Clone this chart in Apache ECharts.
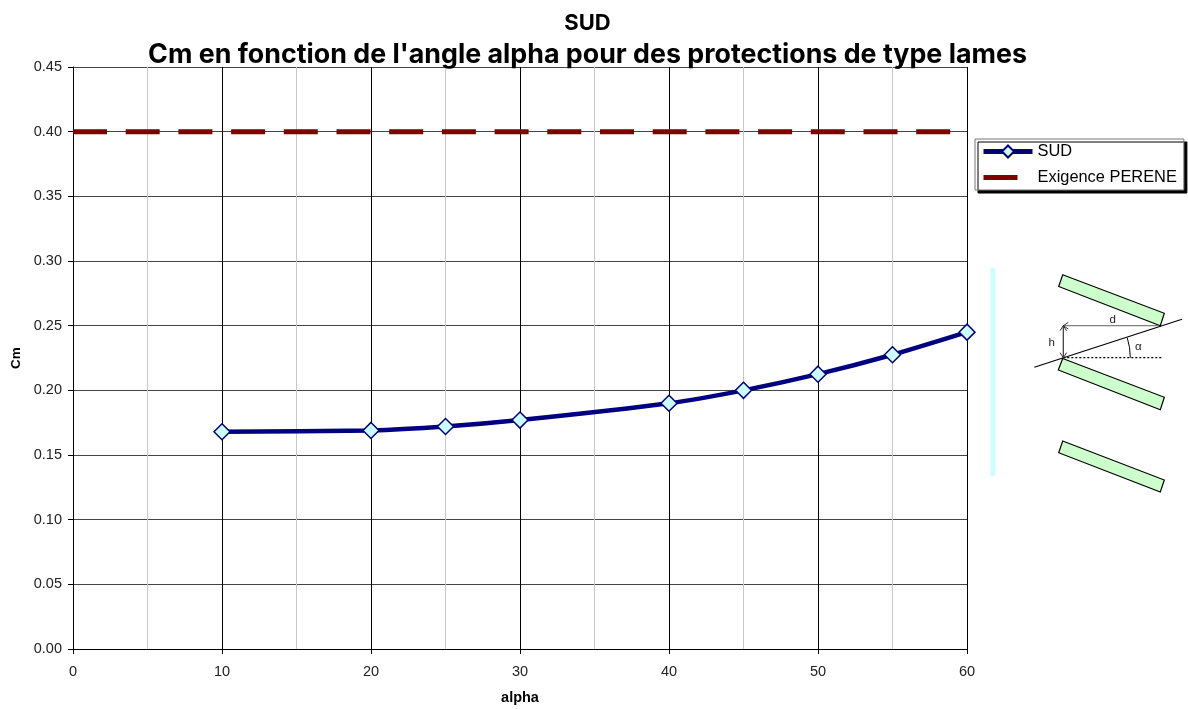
<!DOCTYPE html>
<html><head><meta charset="utf-8">
<style>html,body{margin:0;padding:0;background:#fff}#c{width:1188px;height:709px}</style>
<script src="https://cdn.jsdelivr.net/npm/echarts@6/dist/echarts.min.js"></script>
</head><body><div id="c"></div>
<script>
var titleLines = ["SUD", "Cm en fonction de l'angle alpha pour des protections de type lames"];
var sudAlpha = [10, 20, 25, 30, 40, 45, 50, 55, 60];
var sudCm = [0.168, 0.169, 0.172, 0.177, 0.190, 0.200, 0.2125, 0.2275, 0.245];
var pereneAlpha = [0, 60];
var pereneCm = [0.40, 0.40];
var seriesNames = ["SUD", "Exigence PERENE"];

function zip(a, b) { return a.map(function (v, i) { return [v, b[i]]; }); }
function seg(x1, y1, x2, y2, style) {
  return { type: 'line', shape: { x1: x1, y1: y1, x2: x2, y2: y2 }, style: Object.assign({ stroke: '#000', lineWidth: 1.2 }, style || {}), silent: true };
}
function poly(points, fill) {
  return { type: 'polygon', shape: { points: points }, style: { fill: fill, stroke: '#000', lineWidth: 1.2 }, silent: true };
}
function open(points, color) {
  return { type: 'polyline', shape: { points: points }, style: { fill: 'none', stroke: color, lineWidth: 1 }, silent: true };
}
function label(x, y, t) {
  return { type: 'text', x: x, y: y, style: { text: t, fontFamily: 'Liberation Sans', fontSize: 11.5, fill: '#222', align: 'center', verticalAlign: 'middle' }, silent: true };
}
var FONT = 'Liberation Sans';
var chart = echarts.init(document.getElementById('c'), null, { renderer: 'canvas' });
chart.setOption({
  animation: false,
  backgroundColor: '#fff',
  title: {
    text: '{a|' + titleLines[0] + '}\n{b|' + titleLines[1] + '}', left: 587.5, top: 8, textAlign: 'center', z: 10, padding: 0,
    textStyle: {
      rich: {
        a: { fontFamily: 'Inter', fontWeight: 'bold', fontSize: 22, lineHeight: 31, color: '#000', align: 'center' },
        b: { fontFamily: 'Inter', fontWeight: 'bold', fontSize: 26.8, lineHeight: 32, color: '#000', align: 'center' }
      }
    }
  },
  grid: { left: 73, right: 221, top: 67, bottom: 60, show: false, outerBoundsMode: 'none' },
  legend: {
    left: 975, top: 139, orient: 'vertical', itemWidth: 49, itemHeight: 15, itemGap: 10,
    padding: [4.5, 7, 4.5, 6], selectedMode: false,
    borderColor: '#777', borderWidth: 1, backgroundColor: '#fff',
    shadowColor: '#000', shadowBlur: 0, shadowOffsetX: 3, shadowOffsetY: 3,
    lineStyle: { width: 5 },
    textStyle: { fontFamily: FONT, fontSize: 16.4, lineHeight: 15, color: '#000' },
    data: [
      { name: seriesNames[0] },
      { name: seriesNames[1], icon: 'path://M0 5H34V10H0Z M0 0L0 0 M49 15L49 15' }
    ]
  },
  xAxis: {
    type: 'value', min: 0, max: 60, interval: 10,
    name: 'alpha', nameLocation: 'middle', nameGap: 41,
    nameTextStyle: { fontFamily: FONT, fontWeight: 'bold', fontSize: 14.5, color: '#000' },
    axisLine: { onZero: false, lineStyle: { color: '#000', width: 1 } },
    axisTick: { show: true, length: 5, lineStyle: { color: '#000' } },
    axisLabel: { fontFamily: FONT, fontSize: 14.5, color: '#222', margin: 15 },
    splitLine: { show: true, lineStyle: { color: '#000', width: 1 } },
    minorTick: { show: false, splitNumber: 2 },
    minorSplitLine: { show: true, lineStyle: { color: '#c8c8c8', width: 1 } }
  },
  yAxis: {
    type: 'value', min: 0, max: 0.45, interval: 0.05,
    name: 'Cm', nameLocation: 'middle', nameGap: 50,
    nameTextStyle: { fontFamily: FONT, fontWeight: 'bold', fontSize: 13.5, color: '#000' },
    axisLine: { show: true, lineStyle: { color: '#000', width: 1 } },
    axisTick: { show: true, length: 5, lineStyle: { color: '#000' } },
    axisLabel: { fontFamily: FONT, fontSize: 14.5, color: '#222', margin: 11, formatter: function (v) { return v.toFixed(2); } },
    splitLine: { show: true, lineStyle: { color: '#444', width: 1 } }
  },
  series: [
    {
      name: seriesNames[0], type: 'line', data: zip(sudAlpha, sudCm), smooth: 0.2,
      z: 4, symbol: 'diamond', symbolSize: 16, clip: false,
      lineStyle: { color: '#000080', width: 4.5 },
      itemStyle: { color: '#ccffff', borderColor: '#000080', borderWidth: 1.5 }
    },
    {
      name: seriesNames[1], type: 'line', data: zip(pereneAlpha, pereneCm),
      z: 3, symbol: 'none',
      lineStyle: { color: '#800000', width: 5, type: [34, 18.7] },
      itemStyle: { color: '#800000' }
    }
  ],
  graphic: [
    { type: 'rect', shape: { x: 990.5, y: 268, width: 5, height: 208 }, style: { fill: '#ccffff' }, silent: true },
    poly([[1062.7, 274.7], [1164.3, 313.3], [1160.3, 325.7], [1058.7, 286.5]], '#ccffcc'),
    poly([[1062.7, 358.5], [1164.3, 397.3], [1160.3, 409.7], [1058.3, 370]], '#ccffcc'),
    poly([[1062.7, 441], [1164.3, 480], [1160.3, 492], [1058.7, 452.7]], '#ccffcc'),
    seg(1034.3, 367.3, 1182, 319.3),
    seg(1063.3, 357.7, 1163, 357.7, { lineDash: [2, 2] }),
    seg(1063.3, 325.7, 1158, 325.7, { stroke: '#808080' }),
    open([[1068.3, 322.4], [1063.3, 325.7], [1068.3, 329]], '#333'),
    seg(1063.3, 325.7, 1063.3, 357.7, { stroke: '#333' }),
    open([[1060, 330.7], [1063.3, 325.7], [1066.6, 330.7]], '#333'),
    open([[1060, 352.7], [1063.3, 357.7], [1066.6, 352.7]], '#333'),
    { type: 'arc', shape: { cx: 1063.3, cy: 357.7, r: 67, startAngle: -0.3, endAngle: 0, clockwise: true }, style: { fill: 'none', stroke: '#000', lineWidth: 1 }, silent: true },
    label(1112.7, 320, 'd'), label(1051.7, 343.3, 'h'), label(1138.3, 346.7, 'α')
  ]
});
</script></body></html>
